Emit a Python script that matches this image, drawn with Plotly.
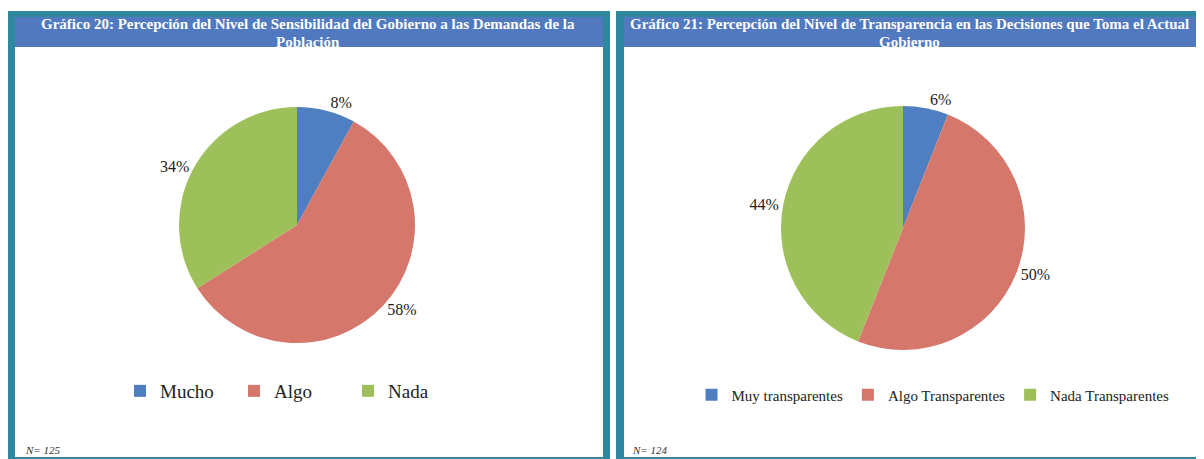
import plotly.graph_objects as go

# The page body has an 8px margin, so the figure is drawn offset by (8, 8).
OFF = 8
W, H = 1204 - OFF, 459 - OFF

# ---- data ----
labels_20 = ["Mucho", "Algo", "Nada"]
values_20 = [8, 58, 34]
labels_21 = ["Muy transparentes", "Algo Transparentes", "Nada Transparentes"]
values_21 = [6, 50, 44]
title_20 = ["Gráfico 20: Percepción del Nivel de Sensibilidad del Gobierno a las Demandas de la",
            "Población"]
title_21 = ["Gráfico 21: Percepción del Nivel de Transparencia en las Decisiones que Toma el Actual",
            "Gobierno"]
n_20 = "N= 125"
n_21 = "N= 124"

colors = ["#4F7FC0", "#D5776B", "#9DC05A"]
TEAL = "#2F87A0"
BAR = "#5079C0"
FONT = "Liberation Serif"


def px(x):
    return (x - OFF) / W


def py(y):
    return 1 - (y - OFF) / H


fig = go.Figure()

fig.add_trace(go.Pie(
    labels=labels_20, values=values_20, sort=False, direction="clockwise", rotation=0,
    marker=dict(colors=colors, line=dict(width=0)),
    textinfo="percent", texttemplate="%{percent:.0%}", textposition="outside",
    textfont=dict(family=FONT, size=16, color="#222"),
    domain=dict(x=[px(179), px(415)], y=[py(343), py(107)]),
    legend="legend", showlegend=True, hoverinfo="label+percent",
))
fig.add_trace(go.Pie(
    labels=labels_21, values=values_21, sort=False, direction="clockwise", rotation=0,
    marker=dict(colors=colors, line=dict(width=0)),
    textinfo="percent", texttemplate="%{percent:.0%}", textposition="outside",
    textfont=dict(family=FONT, size=16, color="#222"),
    domain=dict(x=[px(781), px(1025)], y=[py(350), py(106)]),
    legend="legend2", showlegend=True, hoverinfo="label+percent",
))

shapes = []
def rect(x0, y0, x1, y1, color):
    shapes.append(dict(type="rect", xref="paper", yref="paper",
                       x0=px(x0), x1=px(x1), y0=py(y1), y1=py(y0),
                       fillcolor=color, line=dict(width=0), layer="below"))

# panel 1
rect(8, 11, 610, 462, TEAL)
rect(15, 17, 603, 457, "white")
rect(15, 17, 603, 47, BAR)
# panel 2
rect(616, 11, 1210, 462, TEAL)
rect(624, 17, 1198, 457, "white")
rect(624, 17, 1198, 47, BAR)

annotations = []
for title, cx in ((title_20, 308), (title_21, 909)):
    for line, cy in zip(title, (24, 42)):
        annotations.append(dict(
            text="<b>" + line + "</b>", x=px(cx), y=py(cy), xref="paper", yref="paper",
            showarrow=False, font=dict(family=FONT, size=15, color="white"),
            xanchor="center", yanchor="middle"))
for txt, x0 in ((n_20, 23), (n_21, 630)):
    annotations.append(dict(
        text="<i>" + txt + "</i>", x=px(x0), y=py(450), xref="paper", yref="paper",
        showarrow=False, font=dict(family=FONT, size=11, color="#333"),
        xanchor="left", yanchor="middle"))

fig.update_layout(
    width=W, height=H, margin=dict(l=0, r=0, t=0, b=0),
    paper_bgcolor="white", plot_bgcolor="white",
    shapes=shapes, annotations=annotations,
    legend=dict(orientation="h", x=px(291), y=py(391), xanchor="center", yanchor="middle",
                font=dict(family=FONT, size=19, color="#222"), itemwidth=30,
                entrywidth=69, entrywidthmode="pixels", bgcolor="rgba(0,0,0,0)"),
    legend2=dict(orientation="h", x=px(933), y=py(395), xanchor="center", yanchor="middle",
                 font=dict(family=FONT, size=15, color="#222"), itemwidth=30,
                 bgcolor="rgba(0,0,0,0)"),
    showlegend=True,
)

fig.write_html("out.html")
